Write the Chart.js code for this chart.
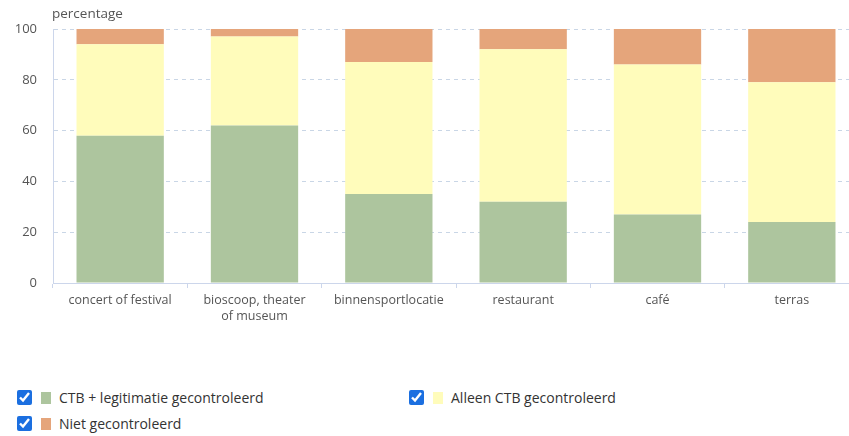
<!DOCTYPE html>
<html>
<head>
<meta charset="utf-8">
<script src="https://cdn.jsdelivr.net/npm/chart.js@4/dist/chart.umd.min.js"></script>
<style>
  html, body { margin: 0; padding: 0; background: #fff; width: 849px; height: 436px; overflow: hidden; font-family: "Open Sans", sans-serif; }
  #wrap { position: absolute; left: 0; top: 0; width: 849px; height: 340px; overflow: hidden; }
  #cbox { position: absolute; left: 0; top: 0; width: 862px; height: 328px; }
  #ylab { position: absolute; left: 52px; top: 4px; font-size: 13.5px; color: #555; }
  .leg { position: absolute; display: flex; align-items: center; font-size: 14px; color: #333; }
  .leg input { margin: 0; width: 15px; height: 15px; accent-color: #1b6fe0; }
  .leg .sw { display: inline-block; width: 10px; height: 12px; margin-left: 9px; margin-right: 8px; }
</style>
</head>
<body>
<div id="wrap">
  <div id="cbox"><canvas id="c" width="862" height="328"></canvas></div>
  <div id="ylab">percentage</div>
</div>
<div class="leg" style="left:17px; top:388px;"><input type="checkbox" checked><span class="sw" style="background:#adc59e"></span>CTB + legitimatie gecontroleerd</div>
<div class="leg" style="left:409px; top:388px;"><input type="checkbox" checked><span class="sw" style="background:#fffcbb"></span>Alleen CTB gecontroleerd</div>
<div class="leg" style="left:17px; top:414px;"><input type="checkbox" checked><span class="sw" style="background:#e5a57b"></span>Niet gecontroleerd</div>
<script>
const categories = ["concert of festival", ["bioscoop, theater", "of museum"], "binnensportlocatie", "restaurant", "café", "terras"];
const ctbLegitimatie = [58, 62, 35, 32, 27, 24];
const alleenCtb = [36, 35, 52, 60, 59, 55];
const nietGecontroleerd = [6, 3, 13, 8, 14, 21];
const yTicks = [0, 20, 40, 60, 80, 100];

new Chart(document.getElementById('c'), {
  type: 'bar',
  data: {
    labels: categories,
    datasets: [
      { label: 'CTB + legitimatie gecontroleerd', data: ctbLegitimatie, backgroundColor: '#adc59e' },
      { label: 'Alleen CTB gecontroleerd', data: alleenCtb, backgroundColor: '#fffcbb' },
      { label: 'Niet gecontroleerd', data: nietGecontroleerd, backgroundColor: '#e5a57b' }
    ]
  },
  options: {
    responsive: false,
    animation: false,
    layout: { padding: { top: 29, right: 3, left: 0, bottom: 0 } },
    datasets: { bar: { categoryPercentage: 1, barPercentage: 0.65 } },
    plugins: { legend: { display: false }, tooltip: { enabled: false }, title: { display: false } },
    scales: {
      x: {
        stacked: true,
        afterFit: s => { s.height = 45; },
        grid: { offset: true, drawOnChartArea: false, drawTicks: true, tickLength: 5, color: '#ccd6eb' },
        border: { color: '#ccd6eb', dash: [4, 2] },
        ticks: { color: '#555', font: { family: 'Open Sans', size: 12.5, lineHeight: 1.3 }, padding: 4, maxRotation: 0, autoSkip: false }
      },
      y: {
        stacked: true,
        min: 0, max: 100,
        afterFit: s => { s.width = 53; },
        afterBuildTicks: s => { s.ticks = yTicks.map(v => ({ value: v })); },
        grid: { color: '#c9d6e6', drawTicks: false },
        border: { color: '#ccd6eb', dash: [4, 4], display: true },
        ticks: { color: '#555', font: { family: 'Open Sans', size: 13 }, padding: 16 }
      }
    }
  }
});
</script>
</body>
</html>
